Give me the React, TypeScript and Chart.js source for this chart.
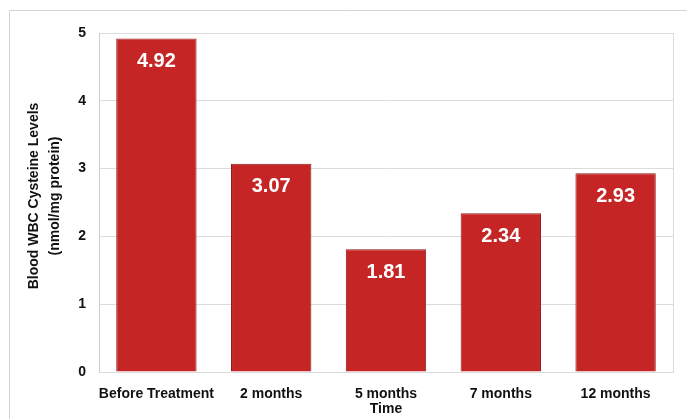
import React, { useEffect, useRef } from "react";
import { Chart, registerables } from "chart.js";

Chart.register(...registerables);

const categories = ["Before Treatment", "2 months", "5 months", "7 months", "12 months"];
const values = [4.92, 3.07, 1.81, 2.34, 2.93];
const valueLabels = ["4.92", "3.07", "1.81", "2.34", "2.93"];
const yTitle = ["Blood WBC Cysteine Levels", "(nmol/mg protein)"];
const xTitle = "Time";

const FONT = "'Liberation Sans', Arial, sans-serif";

const decorPlugin = {
  id: "decor",
  beforeDraw(chart: any) {
    const ctx = chart.ctx;
    ctx.save();
    ctx.fillStyle = "#ffffff";
    ctx.fillRect(0, 0, chart.width, chart.height);
    ctx.strokeStyle = "#d4d4d4";
    ctx.lineWidth = 1;
    ctx.beginPath();
    ctx.moveTo(9.5, chart.height);
    ctx.lineTo(9.5, 10.5);
    ctx.lineTo(chart.width, 10.5);
    ctx.stroke();
    const a = chart.chartArea;
    ctx.strokeStyle = "#dcdcdc";
    ctx.strokeRect(Math.round(a.left) + 0.5, Math.round(a.top) + 0.5, Math.round(a.right - a.left), Math.round(a.bottom - a.top));
    ctx.restore();
  },
  afterDatasetsDraw(chart: any) {
    const ctx = chart.ctx;
    const meta = chart.getDatasetMeta(0);
    ctx.save();
    ctx.fillStyle = "#ffffff";
    ctx.font = `bold 20px ${FONT}`;
    ctx.textAlign = "center";
    ctx.textBaseline = "middle";
    meta.data.forEach((bar: any, i: number) => {
      ctx.fillText(valueLabels[i], bar.x, bar.y + 23);
    });
    ctx.restore();
  },
  afterDraw(chart: any) {
    const ctx = chart.ctx;
    ctx.save();
    ctx.fillStyle = "#111111";
    ctx.font = `bold 14px ${FONT}`;
    ctx.textAlign = "center";
    ctx.textBaseline = "middle";
    const cy = 196;
    const xs = [34, 55];
    yTitle.forEach((t, i) => {
      ctx.save();
      ctx.translate(xs[i], cy);
      ctx.rotate(-Math.PI / 2);
      ctx.fillText(t, 0, 0);
      ctx.restore();
    });
    ctx.restore();
  },
};

export default function App() {
  const ref = useRef<HTMLCanvasElement | null>(null);
  useEffect(() => {
    document.body.style.margin = "0";
    if (!ref.current) return;
    const chart = new Chart(ref.current, {
      type: "bar",
      data: {
        labels: categories,
        datasets: [
          {
            data: values,
            backgroundColor: "#c62526",
            borderColor: "#8e1c1c",
            borderWidth: 1,
            categoryPercentage: 0.7,
            barPercentage: 1,
          },
        ],
      },
      options: {
        responsive: false,
        animation: false,
        layout: { padding: { top: 33, right: 14, left: 0, bottom: 0 } },
        plugins: {
          legend: { display: false },
          tooltip: { enabled: false },
        },
        scales: {
          x: {
            grid: { display: false, drawTicks: false },
            border: { display: false },
            ticks: {
              color: "#111111",
              padding: 14,
              font: { family: FONT, size: 14, weight: "bold" },
              maxRotation: 0,
              autoSkip: false,
            },
            title: {
              display: true,
              text: xTitle,
              color: "#111111",
              font: { family: FONT, size: 14, weight: "bold", lineHeight: 1.2 },
              padding: { top: 0, bottom: 1 },
            },
            afterFit(scale: any) {
              scale.height = 47;
            },
          },
          y: {
            min: 0,
            max: 5,
            ticks: {
              stepSize: 1,
              color: "#111111",
              padding: 13,
              font: { family: FONT, size: 14, weight: "bold" },
            },
            grid: { color: "#dcdcdc", drawTicks: false },
            border: { display: true, color: "#cfcfcf" },
            title: { display: false },
            afterFit(scale: any) {
              scale.width = 99;
            },
          },
        },
      },
      plugins: [decorPlugin],
    } as any);
    return () => chart.destroy();
  }, []);
  return (
    <div style={{ width: 687, height: 419 }}>
      <canvas ref={ref} width={687} height={419} style={{ display: "block" }} />
    </div>
  );
}
